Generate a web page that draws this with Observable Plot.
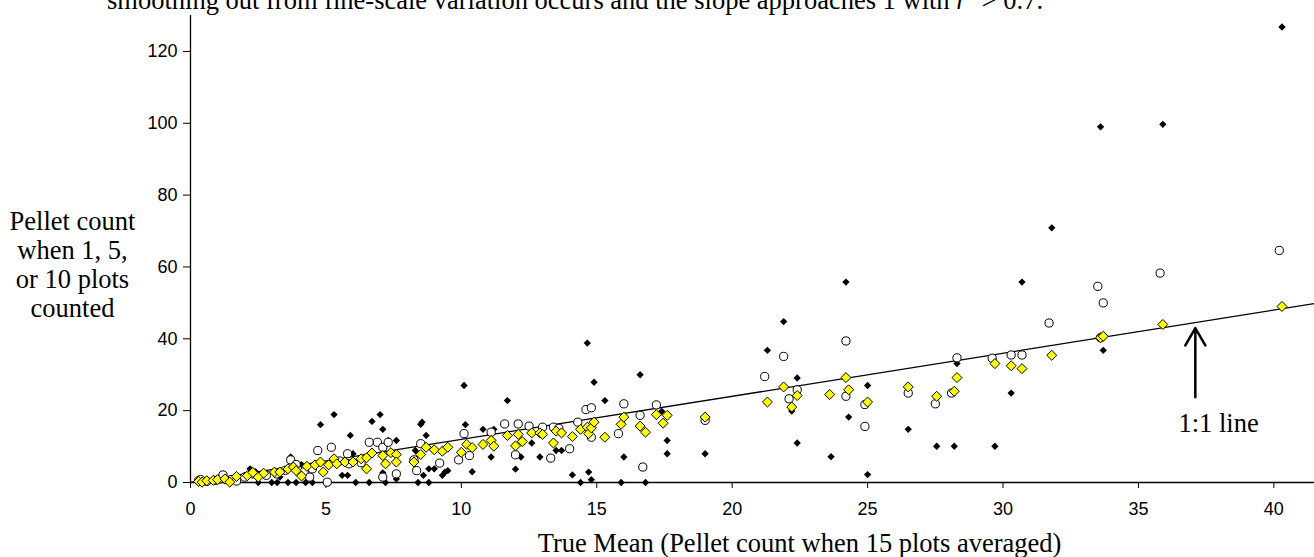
<!DOCTYPE html>
<html>
<head>
<meta charset="utf-8">
<script src="https://cdn.jsdelivr.net/npm/d3@7"></script>
<script src="https://cdn.jsdelivr.net/npm/@observablehq/plot@0.6"></script>
<style>
  html, body { margin: 0; padding: 0; background: #fff; overflow: hidden; }
  #chart { width: 1314px; height: 557px; }
</style>
</head>
<body>
<div id="chart"></div>
<script>
// ---- Data ----
// Series "1 plot counted" (black filled diamonds)
const x1 = [0.4,0.8,1.2,1.6,2.0,2.2,2.4,2.5,3.0,3.2,3.3,3.6,3.7,3.9,4.1,4.25,4.5,4.8,5.0,5.3,5.6,5.8,5.9,6.0,6.1,6.6,6.7,7.0,7.1,7.1,7.2,7.3,7.6,7.6,8.3,8.4,8.5,8.55,8.6,8.7,8.8,8.8,9.0,9.3,9.4,9.5,
  10.1,10.15,10.4,10.8,11.1,11.2,11.7,12.0,12.2,12.6,12.9,13.5,13.7,14.1,14.4,14.65,14.7,14.8,14.9,15.3,15.9,16.0,16.6,16.8,17.4,17.6,17.6,19.0,
  21.3,21.9,22.2,22.4,22.4,23.65,24.2,24.3,25.0,25.0,26.5,27.55,28.2,28.3,29.7,30.3,30.7,31.8,33.6,33.7,35.9,40.3];
const y1 = [0.3,0.5,0.8,1.0,2.0,3.8,3.0,0,0,0,1.5,0,7.1,0,5.0,0,0,16.1,0,18.9,2.0,2.0,13.1,8.0,0,0,17.0,18.9,14.8,2.7,0,11.7,1.0,11.7,8.9,0,16.2,16.8,2.0,13.1,0,3.8,3.8,2.0,2.9,3.3,
  27.0,16.1,3.0,14.8,7.1,14.8,22.8,3.7,7.1,11.0,7.1,8.9,8.9,2.1,0,38.8,2.9,0.8,27.9,22.8,0,7.1,30.0,0,19.8,11.7,8.0,8.0,
  36.8,44.8,19.9,29.1,11.0,7.2,55.8,18.2,27.0,2.2,14.8,10.1,10.1,33.1,10.1,24.9,55.8,70.9,99.0,36.8,99.7,126.8];

// Series "5 plots counted" (open circles)
const x5 = [0.3,0.37,0.6,0.9,1.1,1.2,1.5,1.7,2.0,2.3,2.8,3.2,3.5,3.7,3.9,4.2,4.4,4.5,4.7,5.05,5.2,5.5,5.8,5.85,6.3,6.6,6.9,7.1,7.1,7.3,7.6,8.25,8.35,8.5,9.2,9.9,
  10.1,10.3,11.1,11.6,12.0,12.1,12.5,13.0,13.3,13.4,13.6,14.0,14.3,14.6,14.8,14.8,15.8,16.0,16.6,16.7,17.2,19.0,
  21.2,21.9,22.1,22.4,24.2,24.2,24.9,24.9,26.5,27.5,28.1,28.3,29.6,30.3,30.7,31.7,33.5,33.7,33.6,35.8,40.2];
const y5 = [0.5,0.8,0.3,0.6,1.0,2.1,0.8,0.4,1.5,2.4,2.0,2.4,3.4,6.3,5.0,3.0,1.5,3.8,8.9,0.1,9.8,6.0,8.0,5.2,5.5,11.2,11.2,9.8,1.5,11.2,2.4,6.3,3.3,10.8,5.4,6.3,
  13.6,7.5,14.0,16.3,7.7,16.3,15.7,15.4,6.8,15.4,15.1,9.4,16.8,20.3,20.8,12.6,13.6,21.9,18.7,4.3,21.6,17.3,
  29.5,35.1,23.3,25.8,39.4,24.0,21.7,15.6,24.9,21.9,24.9,34.7,34.6,35.5,35.5,44.4,54.6,50.0,40.3,58.3,64.6];

// Series "10 plots counted" (yellow diamonds)
const x10 = [0.3,0.43,0.6,0.84,1.0,1.27,1.45,1.7,2.1,2.3,2.5,2.7,3.1,3.3,3.6,3.8,3.9,4.1,4.3,4.6,4.8,4.9,5.1,5.3,5.4,5.7,6.0,6.3,6.5,6.5,6.7,7.1,7.2,7.4,7.6,7.6,8.25,8.5,8.7,9.0,9.3,9.5,10.0,
  10.2,10.4,10.8,11.1,11.2,11.7,12.0,12.1,12.25,12.6,12.9,13.0,13.4,13.5,13.7,14.1,14.4,14.65,14.7,14.8,14.9,15.3,15.9,16.0,16.6,16.8,17.2,17.45,17.6,19.0,
  21.3,21.9,22.2,22.4,23.6,24.2,24.3,25.0,26.5,27.55,28.2,28.3,29.7,30.3,30.7,31.8,33.6,33.7,35.9,40.3];
const y10 = [0.3,0.1,0.5,0.6,0.8,1.0,0.1,1.7,1.9,2.8,1.5,2.6,2.9,2.9,3.8,4.3,3.3,1.8,4.5,4.9,5.7,2.9,4.9,6.6,5.2,5.7,5.7,6.6,3.8,6.9,8.2,7.5,5.2,8.3,7.8,5.7,5.7,7.8,9.8,9.1,8.7,9.8,8.4,
  10.6,9.7,10.6,11.7,10.1,13.1,10.2,13.4,11.4,13.8,13.8,13.4,11.0,14.3,13.8,12.8,14.8,15.4,13.6,15.2,16.8,12.6,16.2,18.2,15.7,14.0,18.9,16.5,18.7,18.2,
  22.4,26.6,21.0,24.2,24.5,29.2,25.8,22.4,26.6,24.0,25.4,29.2,33.1,32.5,31.7,35.4,40.3,40.7,44.0,49.0];

// Reference ("1:1") line end points and annotation
const lineX = [0, 41.5];
const lineY = [0, 49.8];
const arrowX = [37.1];
const arrowFrom = [23.7];
const arrowTo = [43.0];
const annotX = [37.96];
const annotY = [16.4];
const annotText = ["1:1 line"];

// Tick values and labels
const xTicks = [0, 5, 10, 15, 20, 25, 30, 35, 40];
const yTicks = [0, 20, 40, 60, 80, 100, 120];
const xTitle = "True Mean (Pellet count when 15 plots averaged)";
const yTitle = "Pellet count\nwhen 1, 5,\nor 10 plots\ncounted";

const serif = "'Liberation Serif', 'Times New Roman', serif";
const sans = "'Liberation Sans', Arial, sans-serif";
const serifSize = 26.5;

const idx = a => a.map((_, i) => i);

const chart = Plot.plot({
  width: 1314,
  height: 557,
  marginLeft: 190,
  marginRight: 0,
  marginTop: 15,
  marginBottom: 75,
  style: { fontFamily: sans, fontSize: "18px", color: "#000", background: "#fff", overflow: "visible" },
  x: { domain: [0, 41.5] },
  y: { domain: [0, 130] },
  marks: [
    Plot.ruleY([0], { stroke: "#000", strokeWidth: 1.3 }),
    Plot.ruleX([0], { stroke: "#000", strokeWidth: 1.3 }),
    Plot.axisX({ ticks: xTicks, tickSize: 6, tickPadding: 14, label: null, fontSize: 18 }),
    Plot.axisY({ ticks: yTicks, tickSize: 7, tickPadding: 6, label: null, fontSize: 18 }),
    Plot.line(idx(lineX), { x: i => lineX[i], y: i => lineY[i], stroke: "#000", strokeWidth: 1.3 }),
    Plot.dot(idx(x1), { x: i => x1[i], y: i => y1[i], symbol: "diamond2", r: 3.3, fill: "#000", stroke: "none" }),
    Plot.dot(idx(x5), { x: i => x5[i], y: i => y5[i], symbol: "circle", r: 4.1, fill: "#fff", stroke: "#000", strokeWidth: 1 }),
    Plot.dot(idx(x10), { x: i => x10[i], y: i => y10[i], symbol: "diamond2", r: 4.5, fill: "#FFFF00", stroke: "#000", strokeWidth: 1 }),
    Plot.arrow(idx(arrowX), { x1: i => arrowX[i], y1: i => arrowFrom[i], x2: i => arrowX[i], y2: i => arrowTo[i], stroke: "#000", strokeWidth: 2.5, headLength: 12, headAngle: 60 }),
    Plot.text(idx(annotX), { x: i => annotX[i], y: i => annotY[i], text: i => annotText[i], fontFamily: serif, fontSize: serifSize, textAnchor: "middle", fill: "#000" }),
    Plot.text([xTitle], { text: d => d, frameAnchor: "bottom", dx: 47, dy: 61, lineAnchor: "middle", fontFamily: serif, fontSize: serifSize, fill: "#000" }),
    Plot.text([yTitle], { text: d => d, frameAnchor: "left", dx: -118, dy: 15, textAnchor: "middle", lineAnchor: "middle", lineHeight: 1.1, fontFamily: serif, fontSize: serifSize, fill: "#000" })
  ]
});

document.getElementById("chart").appendChild(chart);

// Clipped caption line at the very top of the picture (continuation of a figure caption)
const svg = d3.select(chart);
const cap = svg.append("text")
  .attr("x", 107).attr("y", 9)
  .attr("text-anchor", "start")
  .attr("font-family", serif).attr("font-size", serifSize).attr("fill", "#000");
cap.append("tspan").text("smoothing out from fine-scale variation occurs and the slope approaches 1 with ");
cap.append("tspan").attr("font-style", "italic").text("r");
cap.append("tspan").attr("font-size", 17).attr("dy", -10).text("2");
cap.append("tspan").attr("dy", 10).text(" > 0.7.");
</script>
</body>
</html>
